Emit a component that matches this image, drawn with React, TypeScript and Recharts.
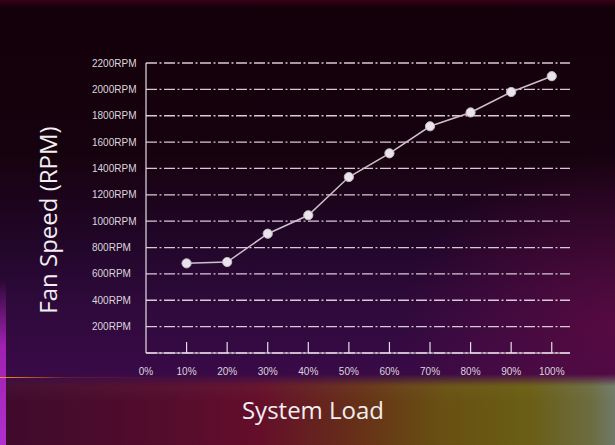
import { CartesianGrid, Label, Line, LineChart, XAxis, YAxis } from "recharts";

const loadSteps = [10, 20, 30, 40, 50, 60, 70, 80, 90, 100];
const fanRpm = [680, 690, 905, 1045, 1335, 1515, 1720, 1825, 1980, 2100];
const xTicks = [0, 10, 20, 30, 40, 50, 60, 70, 80, 90, 100];
const yTicks = [0, 200, 400, 600, 800, 1000, 1200, 1400, 1600, 1800, 2000, 2200];

const data = loadSteps.map((load, i) => ({ load, rpm: fanRpm[i] }));

const TEXT = "#ddd5dd";
const AXIS = "#e6dde6";

function XTick({ x, y, payload }: any) {
  return (
    <g>
      {payload.value !== 0 && <line x1={x} x2={x} y1={y - 11} y2={y} stroke={AXIS} strokeWidth={1.2} />}
      <text x={x} y={y + 22} textAnchor="middle" fill={TEXT} fontSize={10} fontFamily="Liberation Sans, Arial, sans-serif">
        {payload.value}%
      </text>
    </g>
  );
}

function YTick({ y, payload }: any) {
  if (payload.value === 0) return null;
  return (
    <text x={92} y={y + 3.5} textAnchor="start" fill={TEXT} fontSize={10} fontFamily="Liberation Sans, Arial, sans-serif">
      {payload.value}RPM
    </text>
  );
}

const layer = { position: "absolute" as const };

export default function App() {
  return (
    <div style={{ position: "absolute", left: 0, top: 0, width: 615, height: 445, overflow: "hidden", background: "#13000a" }}>
      {/* upper sky */}
      <div
        style={{
          ...layer,
          left: 0,
          top: 0,
          width: 615,
          height: 385,
          background: [
            "linear-gradient(to bottom, #3c0018 0px, #1a0009 5px, transparent 12px)",
            "radial-gradient(ellipse 35% 45% at 100% 85%, rgba(110,10,65,0.6), transparent 100%)",
            "linear-gradient(to bottom, #13000a 0%, #16020e 40%, #210628 62%, #2f0a3c 80%, #3a0a48 100%)"
          ].join(", ")
        }}
      />
      {/* lower floor */}
      <div
        style={{
          ...layer,
          left: 0,
          top: 374,
          width: 615,
          height: 71,
          WebkitMaskImage: "linear-gradient(to bottom, transparent 0px, #000 12px)",
          maskImage: "linear-gradient(to bottom, transparent 0px, #000 12px)",
          background: [
            "linear-gradient(to bottom, rgba(255,255,255,0.05), transparent 40%)",
            "linear-gradient(to right, #3e0a2c 0%, #520c2c 25%, #640e2a 42%, #663018 58%, #685012 72%, #6a5e14 86%, #6c6c40 96%, #707a68 100%)"
          ].join(", ")
        }}
      />
      {/* left edge glow */}
      <div
        style={{
          ...layer,
          left: 0,
          top: 280,
          width: 6,
          height: 165,
          background: "linear-gradient(to bottom, rgba(160,20,120,0), #a020b0 40%, #b030d0 100%)"
        }}
      />
      <div
        style={{
          ...layer,
          left: 0,
          top: 377,
          width: 160,
          height: 1,
          background: "linear-gradient(to right, #ff9020, rgba(200,60,40,0.3) 40%, transparent)"
        }}
      />
      <div style={{ position: "relative" }}>
        <LineChart width={615} height={445} data={data} margin={{ top: 63, right: 45, left: 0, bottom: 32 }}>
          <CartesianGrid vertical={false} stroke="#d9c8d6" strokeWidth={1.3} strokeDasharray="11 2.5 2 2.5" />
          <XAxis
            dataKey="load"
            type="number"
            domain={[0, 104.5]}
            ticks={xTicks}
            interval={0}
            height={60}
            tickLine={false}
            tickSize={0}
            tickMargin={0}
            tick={<XTick />}
            axisLine={{ stroke: AXIS, strokeWidth: 1.2 }}
          >
            <Label
              content={() => (
                <text x={313} y={419} textAnchor="middle" fill="#f2eef2" fontSize={24} fontFamily="Open Sans, sans-serif">
                  System Load
                </text>
              )}
            />
          </XAxis>
          <YAxis
            type="number"
            domain={[0, 2200]}
            ticks={yTicks}
            interval={0}
            width={146}
            tickLine={false}
            tick={<YTick />}
            axisLine={{ stroke: AXIS, strokeWidth: 1.2 }}
          >
            <Label
              content={() => (
                <text
                  x={57}
                  y={220}
                  transform="rotate(-90 57 220)"
                  textAnchor="middle"
                  fill="#f2eef2"
                  fontSize={24}
                  fontFamily="Open Sans, sans-serif"
                >
                  Fan Speed (RPM)
                </text>
              )}
            />
          </YAxis>
          <Line
            type="linear"
            dataKey="rpm"
            stroke="#cdbfcc"
            strokeWidth={1.5}
            dot={{ r: 4.6, fill: "#e8e4ea", stroke: "#c4bac6", strokeWidth: 1 }}
            isAnimationActive={false}
          />
        </LineChart>
      </div>
    </div>
  );
}
